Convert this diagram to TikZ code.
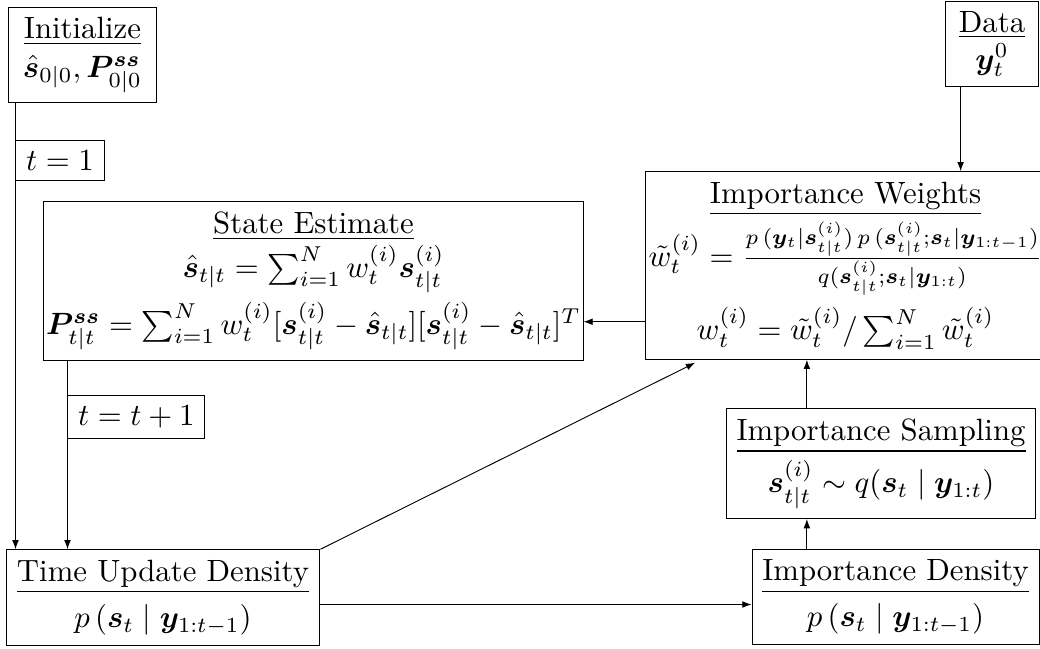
\documentclass[tikz,border=0pt]{standalone}
\usepackage{amsmath,amssymb,bm}
\usetikzlibrary{arrows.meta,calc}
\newcommand{\vs}{\bm{s}}
\newcommand{\vy}{\bm{y}}
\newcommand{\vP}{\bm{P}}
\tikzset{
  blockbox/.style = {draw,align=center,inner sep=3.3pt},
  flowarr/.style  = {-{Latex[length=3pt,width=2.2pt]}},
  steplabel/.style = {draw,anchor=west}
}
\begin{document}
\begin{tikzpicture}[x=0.325pt,y=0.325pt,line width=0.3pt]
  \useasboundingbox (0,0) rectangle (1040,648);
  \node[blockbox,minimum width=47.8pt,minimum height=29.2pt] (initbox) at (82.5,593)
    {\underline{Initialize}\\[0.5pt] $\hat{\vs}_{0|0},\vP^{\vs\vs}_{0|0}$};
  \node[blockbox,minimum width=30.5pt,minimum height=27.3pt] (databox) at (992,604)
    {\underline{Data}\\ $\vy_t^0$};
  \node[blockbox,inner xsep=1pt,minimum width=125.8pt,minimum height=60.1pt] (iwbox) at (845.5,382.5)
    {\underline{Importance Weights}\\[1pt]
     $\tilde{w}_t^{(i)}=\frac{p\,(\vy_t|\vs_{t|t}^{(i)})\,p\,(\vs_{t|t}^{(i)};\vs_t|\vy_{1:t-1})}{q(\vs_{t|t}^{(i)};\vs_t|\vy_{1:t})}$\\[3pt]
     $w_t^{(i)}=\tilde{w}_t^{(i)}/\sum_{i=1}^N\tilde{w}_t^{(i)}$};
  \node[blockbox,inner xsep=0.5pt,minimum width=175.2pt,minimum height=50.7pt] (sebox) at (313.5,367)
    {\underline{State Estimate}\\[0.5pt]
     $\hat{\vs}_{t|t}=\sum_{i=1}^N w_t^{(i)}\vs_{t|t}^{(i)}$\\[2pt]
     $\vP^{\vs\vs}_{t|t}=\sum_{i=1}^N w_t^{(i)}[\vs_{t|t}^{(i)}-\hat{\vs}_{t|t}][\vs_{t|t}^{(i)}-\hat{\vs}_{t|t}]^T$};
  \node[blockbox,minimum width=98.8pt,minimum height=34.8pt] (isbox) at (881,184.5)
    {\underline{Importance Sampling}\\[1.5pt] $\vs_{t|t}^{(i)}\sim q(\vs_t\mid\vy_{1:t})$};
  \node[blockbox,minimum width=93.3pt,minimum height=29.9pt] (idbox) at (895.5,51)
    {\underline{Importance Density}\\[3pt] $p\,(\vs_t\mid\vy_{1:t-1})$};
  \node[blockbox,minimum width=102pt,minimum height=30.9pt] (tudbox) at (163,50.5)
    {\underline{Time Update Density}\\[3pt] $p\,(\vs_t\mid\vy_{1:t-1})$};

  \coordinate (initout) at ($(initbox.south west)+(7,0)$);
  \draw[flowarr] (initout) -- (initout |- tudbox.north)
    node[steplabel,pos=0.128] (tone) {$t=1$};
  \coordinate (seout) at ($(sebox.south west)+(24,0)$);
  \draw[flowarr] (seout) -- (seout |- tudbox.north)
    node[steplabel,pos=0.3] (tnext) {$t=t+1$};
  \coordinate (dataout) at ($(databox.south west)+(16,0)$);
  \draw[flowarr] (dataout) -- (dataout |- iwbox.north);
  \coordinate (iwout) at ($(iwbox.south west)+(0,38)$);
  \draw[flowarr] (iwout) -- (iwout -| sebox.east);
  \coordinate (isout) at ($(isbox.north west)+(81,0)$);
  \draw[flowarr] (isout) -- (isout |- iwbox.south);
  \draw[flowarr] (isout |- idbox.north) -- (isout |- isbox.south);
  \coordinate (tudout) at ($(tudbox.east)+(0,-7)$);
  \draw[flowarr] (tudout) -- (tudout -| idbox.west);
  \draw[flowarr] (tudbox.north east) -- ($(iwbox.south west)+(50,-3)$);
\end{tikzpicture}
\end{document}
